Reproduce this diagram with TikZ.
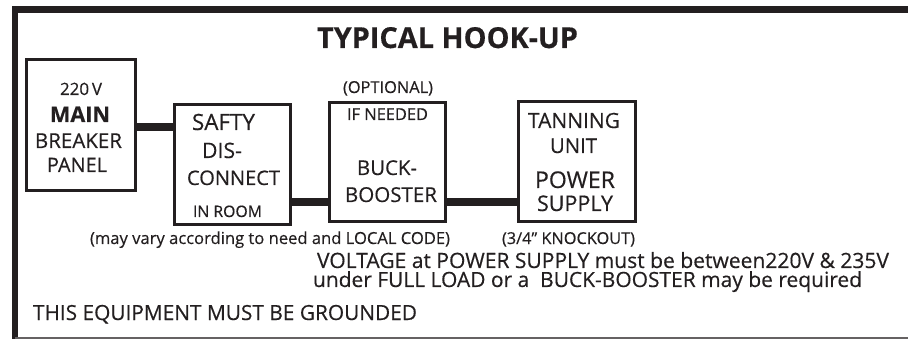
\documentclass[tikz,border=0pt]{standalone}
\usepackage{fontspec}
\usepackage{graphicx}
\setmainfont{Open Sans}[FakeBold=0.4]
\newfontfamily\titlefont{Open Sans}[FakeBold=0.4]
\definecolor{ink}{RGB}{35,31,32}
\newcommand{\fitw}[2]{\resizebox{#1pt}{!}{#2}}
\begin{document}
\begin{tikzpicture}[x=1pt,y=-1pt,
  box/.style={draw=ink,line width=3pt,inner sep=0pt},
  conn/.style={draw=ink,line width=8.5pt},
  txt/.style={anchor=base,inner sep=0pt,text=ink,font=\fontsize{20}{20}\selectfont}]
\useasboundingbox (0,0) rectangle (908,339);
% frame
\draw[ink,line width=6pt] (15,339) -- (15,9.5);
\draw[ink,line width=7pt] (12,9.5) -- (908,9.5);
\draw[ink!70,line width=1.5pt] (15,338.2) -- (908,338.2);
% title
\node[txt,font=\fontsize{26}{26}\selectfont\bfseries] (title) at (447.5,48) {\fitw{261}{TYPICAL HOOK-UP}};
% boxes
\node[box,minimum width=109pt,minimum height=131pt] (main) at (81,125) {};
\node[box,minimum width=116pt,minimum height=120pt] (safty) at (232.5,164.5) {};
\node[box,minimum width=116pt,minimum height=119pt] (buck) at (387.5,162) {};
\node[box,minimum width=117pt,minimum height=120pt] (tann) at (577,161.5) {};
% connector levels
\coordinate (c1) at (0,127);
\coordinate (c2) at (0,202);
\draw[conn] (main.east |- c1) -- (safty.west |- c1);
\draw[conn] (safty.east |- c2) -- (buck.west |- c2);
\draw[conn] (buck.east |- c2) -- (tann.west |- c2);
% main box text
\node[txt] (t220) at (81,95) {\fitw{42}{220\,V}};
\node[txt,font=\fontsize{22}{22}\selectfont\bfseries] (tmain) at (80,122) {\fitw{60}{MAIN}};
\node[txt] (tbreaker) at (78.5,148) {\fitw{87}{BREAKER}};
\node[txt] (tpanel) at (77,172) {\fitw{60}{PANEL}};
% safty box text
\node[txt] (tsafty) at (223.5,130) {\fitw{63}{SAFTY}};
\node[txt] (tdis) at (222,158) {\fitw{40}{DIS-}};
\node[txt] (tconnect) at (233.5,185) {\fitw{93}{CONNECT}};
\node[txt] (troom) at (227.5,217) {\fitw{69}{IN ROOM}};
% buck box text
\node[txt] (topt) at (388,93) {\fitw{90}{(OPTIONAL)}};
\node[txt] (tneed) at (387.5,120) {\fitw{81}{IF NEEDED}};
\node[txt] (tbuck) at (387,175) {\fitw{60}{BUCK-}};
\node[txt] (tbooster) at (391,202) {\fitw{92}{BOOSTER}};
% tanning box text
\node[txt] (ttanning) at (574,128) {\fitw{92}{TANNING}};
\node[txt] (tunit) at (573.5,153) {\fitw{47}{UNIT}};
\node[txt] (tpower) at (575,188) {\fitw{80}{POWER}};
\node[txt] (tsupply) at (575,211) {\fitw{76}{SUPPLY}};
% notes
\node[txt] (tknock) at (568.5,244) {\fitw{133}{(3/4" KNOCKOUT)}};
\node[txt] (tvary) at (270,244) {\fitw{360}{(may vary according to need and LOCAL CODE)}};
\node[txt] (tvolt) at (603,268) {\fitw{572}{VOLTAGE at POWER SUPPLY must be between220V \& 235V}};
\node[txt] (tload) at (587.5,287) {\fitw{549}{under FULL LOAD or a\ \ BUCK-BOOSTER may be required}};
\node[txt] (tground) at (225,320) {\fitw{384}{THIS EQUIPMENT MUST BE GROUNDED}};
\end{tikzpicture}
\end{document}
